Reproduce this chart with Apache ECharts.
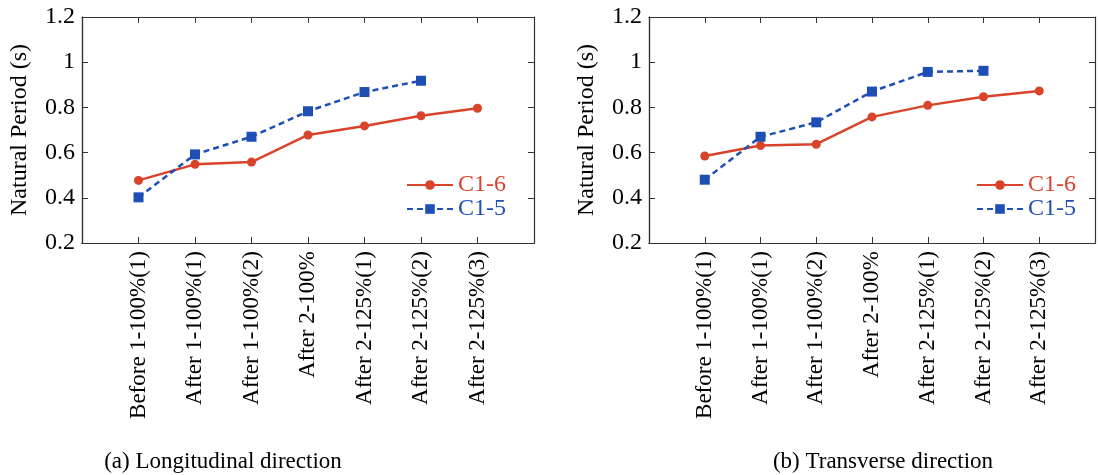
<!DOCTYPE html>
<html>
<head>
<meta charset="utf-8">
<script src="https://cdn.jsdelivr.net/npm/echarts@6/dist/echarts.min.js"></script>
<style>
  html, body { margin: 0; padding: 0; background: #fff; }
  #chart { width: 1099px; height: 475px; }
</style>
</head>
<body>
<div id="chart"></div>
<script>
const categories = ['Before 1-100%(1)', 'After 1-100%(1)', 'After 1-100%(2)', 'After 2-100%',
  'After 2-125%(1)', 'After 2-125%(2)', 'After 2-125%(3)'];
// (a) longitudinal
const lonC16 = [0.477, 0.548, 0.558, 0.678, 0.718, 0.763, 0.796];
const lonC15 = [0.402, 0.592, 0.670, 0.783, 0.868, 0.918];
// (b) transverse
const traC16 = [0.585, 0.631, 0.637, 0.758, 0.809, 0.847, 0.873];
const traC15 = [0.480, 0.670, 0.734, 0.870, 0.957, 0.962];

const RED = '#d8432a';
const BLUE = '#1f4fb4';
const FONT = "'Liberation Serif', 'Times New Roman', serif";
const AXIS = '#333';

const grids = [
  { left: 82, top: 17, width: 452, height: 226, outerBoundsMode: 'none' },
  { left: 649, top: 17, width: 446, height: 226, outerBoundsMode: 'none' }
];

const chart = echarts.init(document.getElementById('chart'));

// main axes carry labels and box lines; tick-only axes sit on the opposite edge
// so their outward ticks point into the plot
function xAxes(g) {
  const h = grids[g].height;
  const base = () => ({
    type: 'value', gridIndex: g, min: 0, max: 8, interval: 1,
    splitLine: { show: false }
  });
  const line = () => ({ show: true, onZero: false, lineStyle: { color: AXIS, width: 1.2 } });
  const tick = () => ({ show: true, inside: false, length: 6, lineStyle: { color: AXIS, width: 1 } });
  return [
    Object.assign(base(), {
      position: 'bottom',
      axisLine: line(),
      axisTick: { show: false },
      axisLabel: {
        rotate: 90, margin: 8, fontFamily: FONT, fontSize: 23, color: '#000',
        formatter: (v) => categories[v - 1] || ''
      }
    }),
    Object.assign(base(), { position: 'bottom', offset: -h, axisLine: line(), axisTick: tick(), axisLabel: { show: false } }),
    Object.assign(base(), { position: 'top', offset: -h, axisLine: line(), axisTick: tick(), axisLabel: { show: false } })
  ];
}

function yAxes(g) {
  const w = grids[g].width;
  const base = () => ({
    type: 'value', gridIndex: g, min: 0.2, max: 1.2, interval: 0.2,
    splitLine: { show: false }
  });
  const line = () => ({ show: true, onZero: false, lineStyle: { color: AXIS, width: 1.2 } });
  const tick = () => ({ show: true, inside: false, length: 6, lineStyle: { color: AXIS, width: 1 } });
  return [
    Object.assign(base(), {
      position: 'left',
      name: 'Natural Period (s)', nameLocation: 'middle', nameGap: 50,
      nameTextStyle: { fontFamily: FONT, fontSize: 24, color: '#000' },
      axisLine: line(),
      axisTick: { show: false },
      axisLabel: { margin: 7, fontFamily: FONT, fontSize: 24, color: '#000' }
    }),
    Object.assign(base(), { position: 'right', offset: -w, axisLine: line(), axisTick: tick(), axisLabel: { show: false } }),
    Object.assign(base(), { position: 'left', offset: -w, axisLine: line(), axisTick: tick(), axisLabel: { show: false } })
  ];
}

function lineSeries(name, values, g, color, dashed, symbol) {
  return {
    name: name, type: 'line',
    xAxisIndex: g * 3, yAxisIndex: g * 3,
    data: values.map((v, i) => [i + 1, v]),
    symbol: symbol, symbolSize: symbol === 'rect' ? 10 : 9,
    lineStyle: { color: color, width: 2.5, type: dashed ? [6, 4] : 'solid' },
    itemStyle: { color: color },
    z: dashed ? 3 : 2
  };
}

function legend(left) {
  return {
    orient: 'vertical', left: left, top: 168,
    itemWidth: 46, itemHeight: 12, itemGap: 0,
    selectedMode: false,
    textStyle: { fontFamily: FONT, fontSize: 24 },
    data: [
      { name: 'C1-6', textStyle: { color: RED } },
      { name: 'C1-5', textStyle: { color: BLUE } }
    ]
  };
}

chart.setOption({
  animation: false,
  backgroundColor: '#fff',
  title: [
    { text: '(a) Longitudinal direction', left: 218, top: 445, textAlign: 'center',
      textStyle: { fontFamily: FONT, fontSize: 23, fontWeight: 'normal', color: '#000' } },
    { text: '(b) Transverse direction', left: 878, top: 445, textAlign: 'center',
      textStyle: { fontFamily: FONT, fontSize: 23, fontWeight: 'normal', color: '#000' } }
  ],
  grid: grids,
  legend: [legend(401), legend(971)],
  xAxis: xAxes(0).concat(xAxes(1)),
  yAxis: yAxes(0).concat(yAxes(1)),
  series: [
    lineSeries('C1-6', lonC16, 0, RED, false, 'circle'),
    lineSeries('C1-5', lonC15, 0, BLUE, true, 'rect'),
    lineSeries('C1-6', traC16, 1, RED, false, 'circle'),
    lineSeries('C1-5', traC15, 1, BLUE, true, 'rect')
  ]
});
</script>
</body>
</html>
